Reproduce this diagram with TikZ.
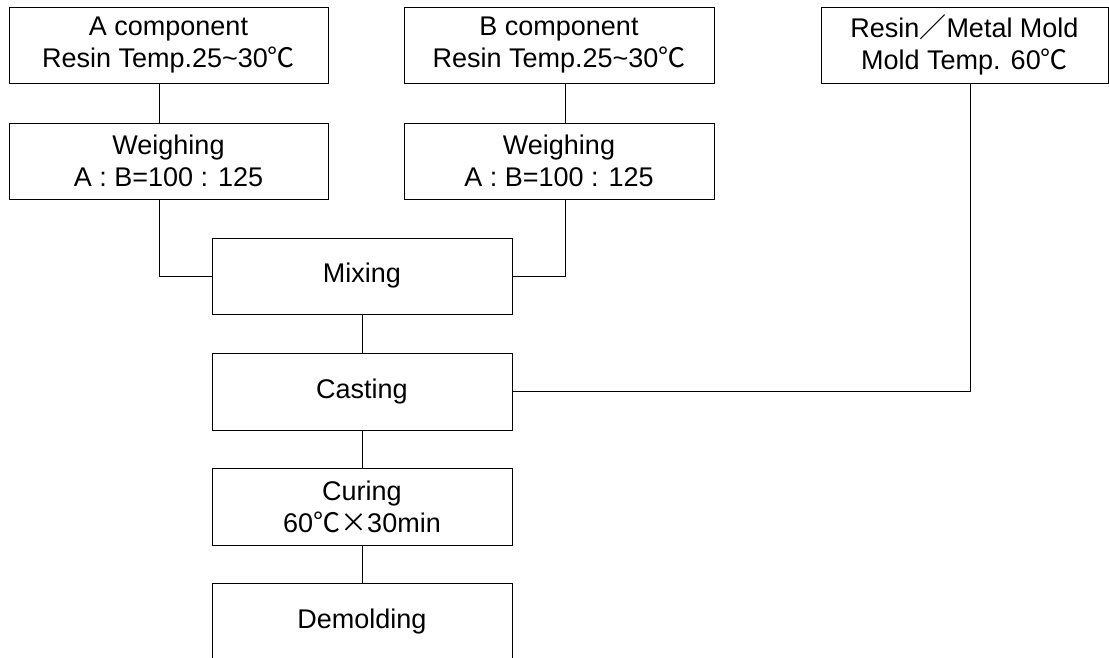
\documentclass[tikz,border=0pt]{standalone}
\usepackage{fontspec}
\setmainfont{Liberation Sans}
\newfontfamily\cjk{Noto Sans CJK JP}
\usepackage{tikz}
\usetikzlibrary{positioning}

\begin{document}
\begin{tikzpicture}[x=1pt,y=-1pt,line width=0.9pt,
    procbox/.style={rectangle,draw,align=center,inner sep=0pt,minimum height=76,
        font=\fontsize{27}{32}\selectfont}]
    \clip (0,0) rectangle (1109,657);

    % Raw materials
    \node[procbox,minimum width=319] (acomp) at (168.5,45) {A component\\Resin Temp.25\textasciitilde30{\cjk ℃}};
    \node[procbox,minimum width=310] (bcomp) at (559,45) {B component\\Resin Temp.25\textasciitilde30{\cjk ℃}};
    \node[procbox,minimum width=287] (mold) at (964.5,45) {Resin{\cjk ／}Metal Mold\\Mold Temp. 60{\cjk ℃}};

    % Weighing
    \node[procbox,minimum width=319] (wa) at (168.5,161) {Weighing\\A : B=100 : 125};
    \node[procbox,minimum width=310] (wb) at (559,161) {Weighing\\A : B=100 : 125};

    % Process steps
    \node[procbox,minimum width=300] (mix) at (362,276) {Mixing};
    \node[procbox,minimum width=300,minimum height=77] (cast) at (362,391.5) {Casting};
    \node[procbox,minimum width=300,minimum height=77] (cure) at (362,506.5) {Curing\\60{\cjk ℃×}30min};
    \node[procbox,minimum width=300,minimum height=77] (demold) at (362,621.5) {Demolding};

    % Lines
    \draw ([xshift=-9]acomp.south) -- ([xshift=-9]wa.north);
    \draw ([xshift=6]bcomp.south) -- ([xshift=6]wb.north);
    \draw ([xshift=-9]wa.south) |- (mix.west);
    \draw ([xshift=6]wb.south) |- (mix.east);
    \draw (mix.south) -- (cast.north);
    \draw ([xshift=5.5]mold.south) |- (cast.east);
    \draw (cast.south) -- (cure.north);
    \draw (cure.south) -- (demold.north);
\end{tikzpicture}
\end{document}
